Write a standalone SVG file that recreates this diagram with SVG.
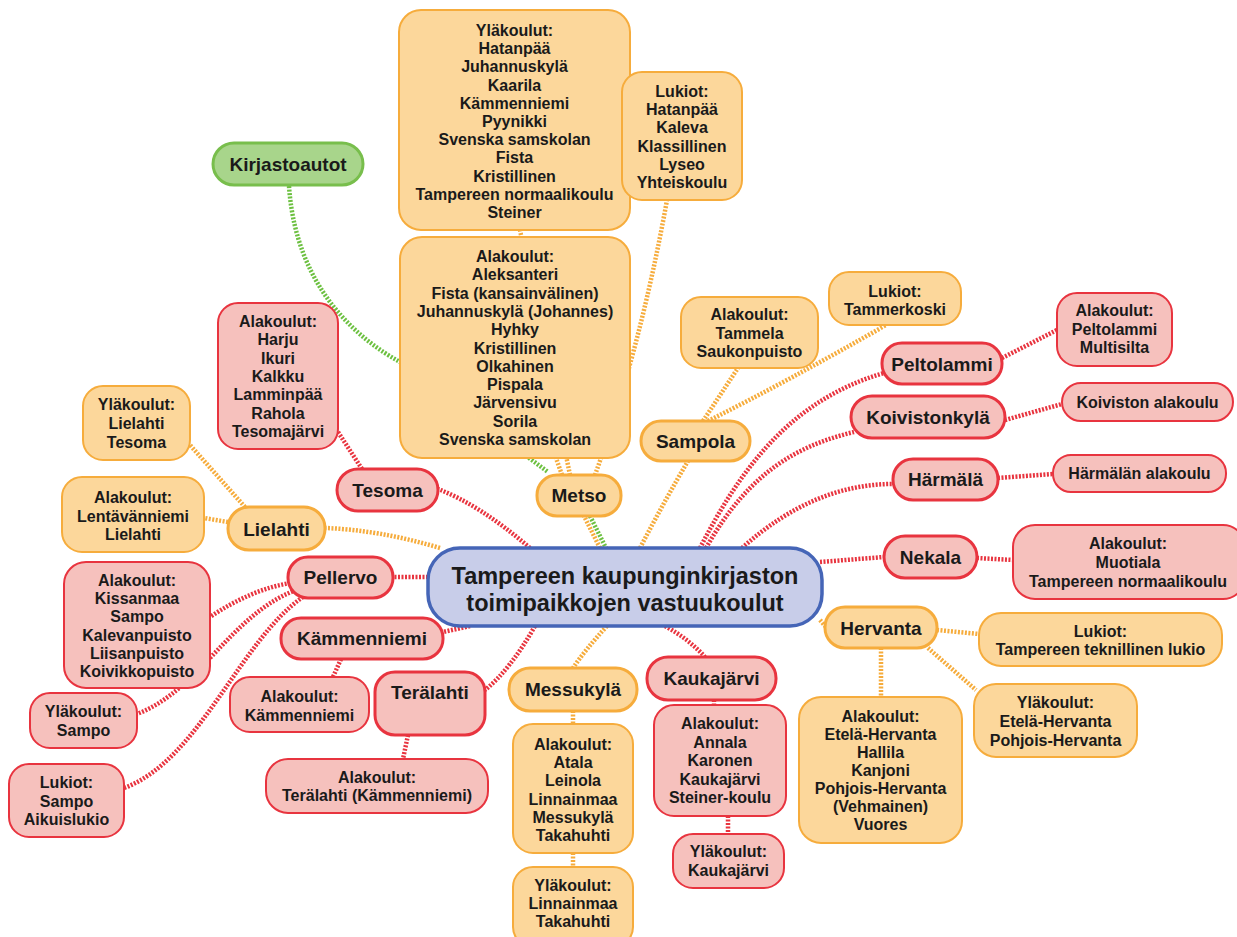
<svg xmlns="http://www.w3.org/2000/svg" width="1237" height="937" viewBox="0 0 1237 937">
<style>
text{font-family:"Liberation Sans",Arial,sans-serif;font-weight:bold;fill:#1a1a1a;text-anchor:middle}
.s{font-size:16px}
.l{font-size:19px}
.c{font-size:23.5px}
.o{fill:#fcd79b;stroke:#f6ac3c;stroke-width:2}
.r{fill:#f6c1bd;stroke:#e8343f;stroke-width:2}
.rn{fill:#f6c1bd;stroke:#e8343f;stroke-width:3}
.on{fill:#fcd79b;stroke:#f6ac3c;stroke-width:3}
.g{fill:#a8d58b;stroke:#78be4c;stroke-width:3}
.b{fill:#c8cde9;stroke:#4565b7;stroke-width:3.5}
.e{fill:none;stroke-width:4.5;stroke-dasharray:2 1.5}
.er{stroke:#e8343f}.eo{stroke:#f6ac3c}.eg{stroke:#6cc040}
</style>
<rect width="1237" height="937" fill="#ffffff"/>
<g id="connectors">
<path class="e eg" d="M289 186 C296 290 360 340 400 362 L548 472"/>
<path class="e eg" d="M590 516 L606 548"/>
<path class="e er" d="M530 548 Q480 505 438 489"/>
<path class="e er" d="M362 469 L338 432"/>
<path class="e er" d="M428 577 L393 577"/>
<path class="e er" d="M290 583 Q250 590 210 617"/>
<path class="e er" d="M296 590 C230 615 200 690 137 714"/>
<path class="e er" d="M303 597 C240 640 200 760 124 788"/>
<path class="e er" d="M470 626 L443 632"/>
<path class="e er" d="M341 659 L333 677"/>
<path class="e er" d="M535 626 Q510 670 485 690"/>
<path class="e er" d="M408 735 L403 759"/>
<path class="e er" d="M665 626 Q690 640 705 657"/>
<path class="e er" d="M714 700 L714 705"/>
<path class="e er" d="M728 816 L728 834"/>
<path class="e er" d="M820 562 L884 557"/>
<path class="e er" d="M977 558 L1013 560"/>
<path class="e er" d="M742 548 C790 505 840 484 893 484"/>
<path class="e er" d="M998 478 L1053 474"/>
<path class="e er" d="M700 548 C740 470 790 400 884 373"/>
<path class="e er" d="M706 548 C750 470 800 445 854 432"/>
<path class="e er" d="M1002 358 L1057 330"/>
<path class="e er" d="M1005 420 L1062 404"/>
<path class="e eo" d="M440 548 Q380 530 325 528"/>
<path class="e eo" d="M245 507 L190 445"/>
<path class="e eo" d="M228 522 L204 518"/>
<path class="e eo" d="M607 626 Q585 650 573 668"/>
<path class="e eo" d="M573 711 L573 724"/>
<path class="e eo" d="M573 853 L573 867"/>
<path class="e eo" d="M820 620 L826 627"/>
<path class="e eo" d="M937 630 L979 634"/>
<path class="e eo" d="M928 648 L976 690"/>
<path class="e eo" d="M881 648 L881 697"/>
<path class="e eo" d="M640 548 Q665 500 688 461"/>
<path class="e eo" d="M703 421 L738 368"/>
<path class="e eo" d="M708 421 Q790 380 886 325"/>
<path class="e eo" d="M600 548 L584 516"/>
<path class="e eo" d="M562 475 L556 458"/>
<path class="e eo" d="M570 475 L520 230"/>
<path class="e eo" d="M595 475 Q640 350 667 200"/>
</g>
<g id="metso-ylakoulut"><rect class="o" x="399" y="10" width="231" height="220" rx="22"/>
<text class="s"><tspan x="514.5" y="36">Yläkoulut:</tspan><tspan x="514.5" y="54.2">Hatanpää</tspan><tspan x="514.5" y="72.4">Juhannuskylä</tspan><tspan x="514.5" y="90.6">Kaarila</tspan><tspan x="514.5" y="108.8">Kämmenniemi</tspan><tspan x="514.5" y="127">Pyynikki</tspan><tspan x="514.5" y="145.2">Svenska samskolan</tspan><tspan x="514.5" y="163.4">Fista</tspan><tspan x="514.5" y="181.6">Kristillinen</tspan><tspan x="514.5" y="199.8">Tampereen normaalikoulu</tspan><tspan x="514.5" y="218">Steiner</tspan></text></g>
<g id="metso-lukiot"><rect class="o" x="622" y="72" width="120" height="128" rx="20"/>
<text class="s"><tspan x="682" y="97">Lukiot:</tspan><tspan x="682" y="115.2">Hatanpää</tspan><tspan x="682" y="133.4">Kaleva</tspan><tspan x="682" y="151.6">Klassillinen</tspan><tspan x="682" y="169.8">Lyseo</tspan><tspan x="682" y="188">Yhteiskoulu</tspan></text></g>
<g id="metso-alakoulut"><rect class="o" x="400" y="237" width="230" height="221" rx="22"/>
<text class="s"><tspan x="515" y="262">Alakoulut:</tspan><tspan x="515" y="280.3">Aleksanteri</tspan><tspan x="515" y="298.6">Fista (kansainvälinen)</tspan><tspan x="515" y="316.9">Juhannuskylä (Johannes)</tspan><tspan x="515" y="335.2">Hyhky</tspan><tspan x="515" y="353.5">Kristillinen</tspan><tspan x="515" y="371.8">Olkahinen</tspan><tspan x="515" y="390.1">Pispala</tspan><tspan x="515" y="408.4">Järvensivu</tspan><tspan x="515" y="426.7">Sorila</tspan><tspan x="515" y="445">Svenska samskolan</tspan></text></g>
<g id="metso"><rect class="on" x="537" y="475" width="84" height="41" rx="20"/><text class="l" x="579" y="502">Metso</text></g>
<g id="kirjastoautot"><rect class="g" x="213" y="143" width="150" height="42" rx="21"/><text class="l" x="288" y="171">Kirjastoautot</text></g>
<g id="tesoma-alakoulut"><rect class="r" x="218" y="303" width="120" height="146" rx="20"/>
<text class="s"><tspan x="278" y="327">Alakoulut:</tspan><tspan x="278" y="345.3">Harju</tspan><tspan x="278" y="363.6">Ikuri</tspan><tspan x="278" y="381.9">Kalkku</tspan><tspan x="278" y="400.2">Lamminpää</tspan><tspan x="278" y="418.5">Rahola</tspan><tspan x="278" y="436.8">Tesomajärvi</tspan></text></g>
<g id="tesoma"><rect class="rn" x="337" y="469" width="101" height="42" rx="21"/><text class="l" x="387.5" y="497">Tesoma</text></g>
<g id="lielahti-ylakoulut"><rect class="o" x="83" y="386" width="107" height="74" rx="20"/>
<text class="s"><tspan x="136.5" y="410">Yläkoulut:</tspan><tspan x="136.5" y="429">Lielahti</tspan><tspan x="136.5" y="448">Tesoma</tspan></text></g>
<g id="lielahti-alakoulut"><rect class="o" x="62" y="477" width="142" height="75" rx="20"/>
<text class="s"><tspan x="133" y="503">Alakoulut:</tspan><tspan x="133" y="521.5">Lentävänniemi</tspan><tspan x="133" y="540">Lielahti</tspan></text></g>
<g id="lielahti"><rect class="on" x="228" y="507" width="97" height="43" rx="21"/><text class="l" x="276.5" y="536">Lielahti</text></g>
<g id="pellervo"><rect class="rn" x="288" y="557" width="105" height="41" rx="20"/><text class="l" x="340.5" y="584">Pellervo</text></g>
<g id="pellervo-alakoulut"><rect class="r" x="64" y="562" width="146" height="126" rx="22"/>
<text class="s"><tspan x="137" y="586">Alakoulut:</tspan><tspan x="137" y="604.2">Kissanmaa</tspan><tspan x="137" y="622.4">Sampo</tspan><tspan x="137" y="640.6">Kalevanpuisto</tspan><tspan x="137" y="658.8">Liisanpuisto</tspan><tspan x="137" y="677">Koivikkopuisto</tspan></text></g>
<g id="pellervo-ylakoulut"><rect class="r" x="30" y="693" width="107" height="55" rx="20"/>
<text class="s"><tspan x="83.5" y="717">Yläkoulut:</tspan><tspan x="83.5" y="736">Sampo</tspan></text></g>
<g id="pellervo-lukiot"><rect class="r" x="9" y="764" width="115" height="73" rx="20"/>
<text class="s"><tspan x="66.5" y="788">Lukiot:</tspan><tspan x="66.5" y="806.5">Sampo</tspan><tspan x="66.5" y="825">Aikuislukio</tspan></text></g>
<g id="kammenniemi"><rect class="rn" x="281" y="618" width="162" height="41" rx="20"/><text class="l" x="362" y="645">Kämmenniemi</text></g>
<g id="kammenniemi-alakoulut"><rect class="r" x="230" y="677" width="139" height="55" rx="20"/>
<text class="s"><tspan x="299.5" y="702">Alakoulut:</tspan><tspan x="299.5" y="721">Kämmenniemi</tspan></text></g>
<g id="teralahti"><rect class="rn" x="375" y="672" width="110" height="63" rx="20"/><text class="l" x="430" y="699">Terälahti</text></g>
<g id="teralahti-alakoulut"><rect class="r" x="266" y="759" width="222" height="54" rx="22"/>
<text class="s"><tspan x="377" y="783">Alakoulut:</tspan><tspan x="377" y="801">Terälahti (Kämmenniemi)</tspan></text></g>
<g id="central"><rect class="b" x="428" y="548" width="394" height="78" rx="32"/>
<text class="c"><tspan x="625" y="584">Tampereen kaupunginkirjaston</tspan><tspan x="625" y="611">toimipaikkojen vastuukoulut</tspan></text></g>
<g id="messukyla"><rect class="on" x="509" y="668" width="128" height="43" rx="21"/><text class="l" x="573" y="696">Messukylä</text></g>
<g id="messukyla-alakoulut"><rect class="o" x="513" y="724" width="120" height="129" rx="20"/>
<text class="s"><tspan x="573" y="750">Alakoulut:</tspan><tspan x="573" y="768.2">Atala</tspan><tspan x="573" y="786.4">Leinola</tspan><tspan x="573" y="804.6">Linnainmaa</tspan><tspan x="573" y="822.8">Messukylä</tspan><tspan x="573" y="841">Takahuhti</tspan></text></g>
<g id="messukyla-ylakoulut"><rect class="o" x="513" y="867" width="120" height="80" rx="20"/>
<text class="s"><tspan x="573" y="891">Yläkoulut:</tspan><tspan x="573" y="909">Linnainmaa</tspan><tspan x="573" y="927">Takahuhti</tspan></text></g>
<g id="kaukajarvi"><rect class="rn" x="647" y="657" width="129" height="43" rx="21"/><text class="l" x="711.5" y="685">Kaukajärvi</text></g>
<g id="kaukajarvi-alakoulut"><rect class="r" x="654" y="705" width="132" height="111" rx="20"/>
<text class="s"><tspan x="720" y="729">Alakoulut:</tspan><tspan x="720" y="747.5">Annala</tspan><tspan x="720" y="766">Karonen</tspan><tspan x="720" y="784.5">Kaukajärvi</tspan><tspan x="720" y="803">Steiner-koulu</tspan></text></g>
<g id="kaukajarvi-ylakoulut"><rect class="r" x="673" y="834" width="111" height="54" rx="20"/>
<text class="s"><tspan x="728.5" y="857">Yläkoulut:</tspan><tspan x="728.5" y="876">Kaukajärvi</tspan></text></g>
<g id="hervanta"><rect class="on" x="825" y="607" width="112" height="41" rx="20"/><text class="l" x="881" y="635">Hervanta</text></g>
<g id="hervanta-lukiot"><rect class="o" x="979" y="613" width="243" height="53" rx="22"/>
<text class="s"><tspan x="1100.5" y="637">Lukiot:</tspan><tspan x="1100.5" y="655">Tampereen teknillinen lukio</tspan></text></g>
<g id="hervanta-ylakoulut"><rect class="o" x="974" y="684" width="163" height="73" rx="22"/>
<text class="s"><tspan x="1055.5" y="708">Yläkoulut:</tspan><tspan x="1055.5" y="727">Etelä-Hervanta</tspan><tspan x="1055.5" y="746">Pohjois-Hervanta</tspan></text></g>
<g id="hervanta-alakoulut"><rect class="o" x="799" y="697" width="163" height="146" rx="22"/>
<text class="s"><tspan x="880.5" y="722">Alakoulut:</tspan><tspan x="880.5" y="740">Etelä-Hervanta</tspan><tspan x="880.5" y="758">Hallila</tspan><tspan x="880.5" y="776">Kanjoni</tspan><tspan x="880.5" y="794">Pohjois-Hervanta</tspan><tspan x="880.5" y="812">(Vehmainen)</tspan><tspan x="880.5" y="830">Vuores</tspan></text></g>
<g id="nekala"><rect class="rn" x="884" y="536" width="93" height="42" rx="21"/><text class="l" x="930.5" y="564">Nekala</text></g>
<g id="nekala-alakoulut"><rect class="r" x="1013" y="525" width="232" height="74" rx="22"/>
<text class="s"><tspan x="1128" y="549">Alakoulut:</tspan><tspan x="1128" y="568">Muotiala</tspan><tspan x="1128" y="587">Tampereen normaalikoulu</tspan></text></g>
<g id="harmala"><rect class="rn" x="893" y="459" width="105" height="41" rx="20"/><text class="l" x="945.5" y="486">Härmälä</text></g>
<g id="harmala-alakoulu"><rect class="r" x="1053" y="455" width="173" height="37" rx="18"/><text class="s" x="1139.5" y="479">Härmälän alakoulu</text></g>
<g id="koivistonkyla"><rect class="rn" x="851" y="396" width="154" height="42" rx="21"/><text class="l" x="928" y="424">Koivistonkylä</text></g>
<g id="koiviston-alakoulu"><rect class="r" x="1062" y="383" width="171" height="38" rx="19"/><text class="s" x="1147.5" y="408">Koiviston alakoulu</text></g>
<g id="peltolammi"><rect class="rn" x="882" y="343" width="120" height="41" rx="20"/><text class="l" x="942" y="371">Peltolammi</text></g>
<g id="peltolammi-alakoulut"><rect class="r" x="1057" y="293" width="115" height="73" rx="20"/>
<text class="s"><tspan x="1114.5" y="316">Alakoulut:</tspan><tspan x="1114.5" y="334.5">Peltolammi</tspan><tspan x="1114.5" y="353">Multisilta</tspan></text></g>
<g id="sampola"><rect class="on" x="641" y="421" width="109" height="40" rx="20"/><text class="l" x="695.5" y="448">Sampola</text></g>
<g id="sampola-alakoulut"><rect class="o" x="681" y="297" width="137" height="71" rx="20"/>
<text class="s"><tspan x="749.5" y="320">Alakoulut:</tspan><tspan x="749.5" y="338.5">Tammela</tspan><tspan x="749.5" y="357">Saukonpuisto</tspan></text></g>
<g id="sampola-lukiot"><rect class="o" x="829" y="272" width="132" height="53" rx="20"/>
<text class="s"><tspan x="895" y="297">Lukiot:</tspan><tspan x="895" y="315">Tammerkoski</tspan></text></g>
</svg>
